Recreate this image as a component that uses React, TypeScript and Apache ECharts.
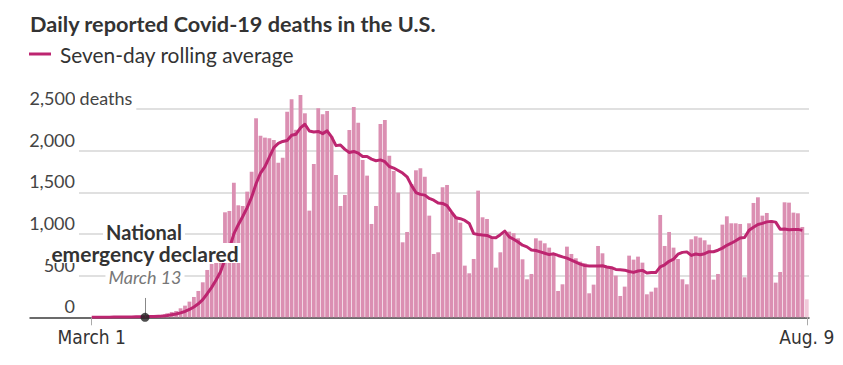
import React, { useEffect, useRef } from 'react';
import * as echarts from 'echarts';

// Daily reported deaths, March 1 (index 0) through Aug. 9 (index 161)
const dailyDeaths = [
  1, 2, 3, 2, 3, 4, 5, 3, 6, 8,
  10, 12, 10, 14, 17, 24, 32, 48, 64, 76,
  108, 140, 188, 244, 316, 420, 568, 640, 760, 880,
  1260, 1276, 1616, 1344, 1336, 1508, 1748, 2388, 2180, 2156,
  2148, 2128, 1856, 1916, 2468, 2616, 2250, 2668, 2448, 1280,
  1840, 2508, 2436, 2476, 2170, 1708, 1336, 1468, 2248, 2524,
  2336, 1888, 1700, 1120, 1336, 2320, 2368, 1940, 1756, 1496,
  900, 1024, 1600, 1764, 1788, 1688, 1220, 760, 780, 1560,
  1588, 1250, 1205, 1136, 620, 528, 700, 1520, 1200, 1180,
  968, 596, 780, 1000, 1028, 1010, 948, 696, 456, 520,
  948, 920, 888, 836, 768, 316, 396, 848, 760, 708,
  668, 648, 288, 392, 856, 768, 608, 608, 500, 256,
  368, 740, 692, 728, 656, 276, 308, 356, 1228, 856,
  1024, 836, 700, 456, 396, 936, 972, 956, 924, 872,
  452, 520, 1112, 1212, 1128, 1128, 1120, 480, 1128, 1372,
  1440, 1220, 1252, 1164, 416, 544, 1380, 1376, 1256, 1248,
  1084, 216,
];

// Seven-day rolling average, March 1 (index 0) through Aug. 8 (index 160)
const rollingAvg = [
  1, 2, 2, 2, 2, 3, 3, 3, 4, 4,
  6, 7, 8, 9, 11, 14, 17, 22, 30, 39,
  53, 70, 94, 124, 162, 213, 283, 359, 448, 547,
  692, 829, 1000, 1111, 1210, 1317, 1441, 1602, 1731, 1809,
  1923, 2037, 2086, 2110, 2122, 2184, 2197, 2272, 2317, 2235,
  2224, 2230, 2204, 2237, 2165, 2060, 2068, 2015, 1977, 1990,
  1970, 1930, 1929, 1898, 1879, 1889, 1867, 1810, 1791, 1762,
  1731, 1686, 1583, 1497, 1475, 1466, 1426, 1406, 1371, 1366,
  1341, 1264, 1195, 1183, 1163, 1127, 1004, 994, 987, 983,
  959, 956, 992, 1035, 965, 937, 904, 865, 845, 808,
  801, 785, 768, 752, 762, 742, 725, 710, 687, 662,
  638, 621, 617, 616, 617, 618, 604, 595, 574, 570,
  566, 550, 539, 556, 563, 531, 538, 537, 606, 630,
  672, 698, 758, 779, 785, 743, 760, 750, 763, 787,
  787, 805, 830, 864, 889, 918, 953, 957, 1044, 1081,
  1114, 1127, 1145, 1151, 1142, 1058, 1059, 1050, 1055, 1055,
  1043,
];

const yTickValues = [0, 500, 1000, 1500, 2000, 2500];
const yTopLabelSuffix = ' deaths';
const xTickDays = [0, 161];
const xTickLabels = ['March 1', 'Aug. 9'];
const emergencyDay = 12;
const emergencyTitle = ['National', 'emergency declared'];
const emergencyDate = 'March 13';
const titleText = 'Daily reported Covid-19 deaths in the U.S.';
const legendText = 'Seven-day rolling average';

const BAR_COLOR = '#db8fb2';
const LAST_BAR_COLOR = '#f1c9da';
const LINE_COLOR = '#bd2570';
const SANS = 'Lato, "Noto Sans", sans-serif';
const NARROW = '"Liberation Sans Narrow", "DejaVu Sans Condensed", "Roboto", sans-serif';

export default function App() {
  const ref = useRef<HTMLDivElement>(null);

  useEffect(() => {
    document.body.style.margin = '0';
    if (!ref.current) return;
    const chart = echarts.init(ref.current, null, { renderer: 'svg' });

    const gridColors = yTickValues.map(() => '#d6d6d6').concat(['rgba(0,0,0,0)']);
    const labelBase = { lineHeight: 20, fontFamily: SANS, fontSize: 18, color: '#444' };

    const option: any = {
      animation: false,
      grid: { left: 30, right: 34, top: 67.3, bottom: 47.7, containLabel: false },
      xAxis: {
        type: 'value',
        min: -13.9,
        max: 161.5,
        splitLine: { show: false },
        axisLine: { show: true, onZero: true, lineStyle: { color: '#444', width: 1.5 } },
        axisTick: {
          show: true,
          customValues: xTickDays,
          length: 8,
          lineStyle: { color: '#aaa', width: 1 },
        },
        axisLabel: {
          customValues: xTickDays,
          margin: 10,
          formatter: (v: number) => {
            const k = xTickDays.indexOf(Math.round(v));
            return k >= 0 ? xTickLabels[k] : '';
          },
          fontFamily: NARROW,
          fontSize: 19,
          color: '#333',
        },
      },
      yAxis: {
        type: 'value',
        min: 0,
        max: 3000,
        interval: 500,
        axisLine: { show: false },
        axisTick: { show: false },
        splitLine: { show: true, lineStyle: { color: gridColors, width: 1.5 } },
        axisLabel: {
          inside: true,
          margin: 0,
          align: 'left',
          verticalAlign: 'middle',
          formatter: (v: number) => {
            if (yTickValues.indexOf(v) < 0) return '';
            const s = v.toLocaleString('en-US');
            if (v === 0) return `{z|${s}}`;
            if (v === yTickValues[yTickValues.length - 1]) return `{t|${s}}{d|${yTopLabelSuffix}}`;
            return `{n|${s}}`;
          },
          rich: {
            z: { ...labelBase, width: 45, align: 'right', padding: [0, 4, 22, 0] },
            n: { ...labelBase, width: 45, align: 'right', padding: [0, 4, 22, 0], backgroundColor: '#fff' },
            t: { ...labelBase, width: 45, align: 'right', padding: [0, 0, 22, 0], backgroundColor: '#fff' },
            d: { ...labelBase, padding: [0, 4, 22, 0], backgroundColor: '#fff' },
          },
        },
      },
      series: [
        {
          type: 'bar',
          silent: true,
          barWidth: 3.8,
          itemStyle: { color: BAR_COLOR },
          data: dailyDeaths.map((v, i) =>
            i === dailyDeaths.length - 1
              ? { value: [i, v], itemStyle: { color: LAST_BAR_COLOR } }
              : [i, v]
          ),
          z: 2,
        },
        {
          type: 'line',
          silent: true,
          symbol: 'none',
          showSymbol: false,
          lineStyle: { color: LINE_COLOR, width: 3, join: 'round' },
          data: rollingAvg.map((v, i) => [i, v]),
          z: 3,
        },
        {
          type: 'scatter',
          silent: true,
          symbolSize: 9,
          itemStyle: { color: '#222' },
          data: [[emergencyDay, 0]],
          z: 6,
          markLine: {
            silent: true,
            symbol: 'none',
            label: { show: false },
            lineStyle: { color: '#888', width: 1, type: 'solid' },
            data: [[{ coord: [emergencyDay, 0] }, { coord: [emergencyDay, 232] }]],
          },
        },
      ],
      graphic: [
        {
          type: 'text', x: 30, y: 24, z: 100,
          style: { text: titleText, font: `bold 21.7px ${SANS}`, fill: '#333', align: 'left', verticalAlign: 'middle' },
        },
        {
          type: 'line', z: 100,
          shape: { x1: 29, y1: 54, x2: 51, y2: 54 },
          style: { stroke: LINE_COLOR, lineWidth: 3 },
        },
        {
          type: 'text', x: 60, y: 54, z: 100,
          style: { text: legendText, font: `20.9px ${SANS}`, fill: '#333', align: 'left', verticalAlign: 'middle' },
        },
        {
          type: 'text', x: 144, y: 232, z: 100,
          style: {
            text: emergencyTitle[0], font: `bold 20px ${SANS}`, fill: '#333', align: 'center', verticalAlign: 'middle',
            lineHeight: 20, backgroundColor: '#fff', padding: [0, 3, 0, 3],
          },
        },
        {
          type: 'text', x: 145, y: 253, z: 100,
          style: {
            text: emergencyTitle[1], font: `bold 21px ${SANS}`, fill: '#333', align: 'center', verticalAlign: 'middle',
            lineHeight: 20, backgroundColor: '#fff', padding: [0, 2, 0, 2],
          },
        },
        {
          type: 'text', x: 145, y: 277, z: 100,
          style: {
            text: emergencyDate, font: `italic 18px ${SANS}`, fill: '#777', align: 'center', verticalAlign: 'middle',
            lineHeight: 20, backgroundColor: '#fff', padding: [0, 3, 0, 3],
          },
        },
      ],
    };

    chart.setOption(option);
    return () => chart.dispose();
  }, []);

  return <div ref={ref} style={{ width: 843, height: 365 }} />;
}
